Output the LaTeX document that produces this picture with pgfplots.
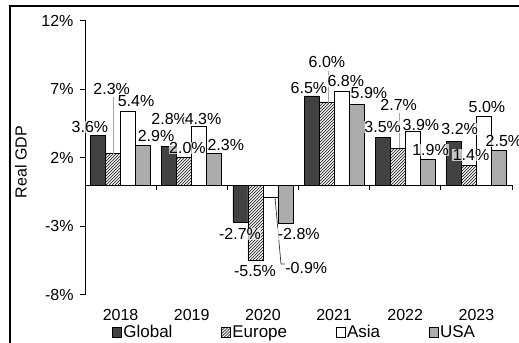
\documentclass[border=0pt]{standalone}
\usepackage{fontspec}
\setmainfont{Liberation Sans}
\usepackage{pgfplots}
\pgfplotsset{compat=1.18}

\definecolor{cGlobal}{RGB}{66,66,66}
\definecolor{cUSA}{RGB}{172,172,172}
\definecolor{leader}{RGB}{165,165,165}
\definecolor{hatchc}{RGB}{40,40,40}

\newcommand{\bigf}{\fontsize{16bp}{19bp}\selectfont}
\newcommand{\legf}{\fontsize{17bp}{20bp}\selectfont}
\tikzset{dl/.style={fill=white, fill opacity=0.7, text opacity=1, inner sep=0.5bp, font=\bigf},
  hatch/.style={path picture={%
    \pgftransformreset
    \pgfpointanchor{path picture bounding box}{south west}%
    \pgfgetlastxy{\hx}{\hy}%
    \pgfsetlinewidth{0.7bp}%
    \pgfsetstrokecolor{hatchc}%
    \foreach \k in {0,...,220}{%
      \pgfpathmoveto{\pgfpoint{\hx+\k*3bp-300bp}{\hy}}%
      \pgfpathlineto{\pgfpoint{\hx+\k*3bp}{\hy+300bp}}%
      \pgfusepath{stroke}%
    }}}}

\begin{document}
\begin{tikzpicture}[font=\bigf]
\draw[line width=2bp] (10bp,-20bp) -- (10bp,337bp) -- (560bp,337bp);
\begin{axis}[
  at={(85bp,48.2bp)}, anchor=south west, scale only axis,
  width=427bp, height=274.3bp,
  ymin=-8, ymax=12, ytick={-8,-3,2,7,12},
  /pgf/number format/assume math mode=true,
  yticklabel={\pgfmathprintnumber{\tick}\%},
  xmin=-0.5, xmax=5.5, xtick={0,...,5},
  xticklabels={2018,2019,2020,2021,2022,2023},
  tick label style={font=\bigf},
  axis lines=left, axis line style={-, line width=0.8bp},
  x axis line style={draw=none},
  major x tick style={draw=none},
  tick align=outside, major tick length=5bp,
  y tick style={line width=0.8bp, black},
  xticklabel style={yshift=-6bp},
  yticklabel style={xshift=-3bp},
  ybar=0pt, bar width=0.2108,
  clip=false,
  legend columns=4,
  legend style={at={(axis description cs:0.0627,-0.1367)}, anchor=west,
    draw=none, fill=none, inner sep=0pt, font=\legf,
    nodes={inner sep=1.2bp, anchor=west},
    /tikz/every even column/.append style={column sep=47.3bp}},
  legend image code/.code={\draw[#1,/tikz/.cd] (0bp,-4.7bp) rectangle (9.4bp,4.7bp);},
  ylabel={Real GDP},
  ylabel style={at={(axis description cs:-0.1365,0.484)}, anchor=base, font=\bigf},
]
\addplot[fill=cGlobal, draw=black, line width=0.8bp]
  coordinates {(0,3.6) (1,2.8) (2,-2.7) (3,6.5) (4,3.5) (5,3.2)};
\addplot[fill=white, hatch, draw=black, line width=0.8bp]
  coordinates {(0,2.3) (1,2.0) (2,-5.5) (3,6.0) (4,2.7) (5,1.4)};
\addplot[fill=white, draw=black, line width=0.8bp]
  coordinates {(0,5.4) (1,4.3) (2,-0.9) (3,6.8) (4,3.9) (5,5.0)};
\addplot[fill=cUSA, draw=black, line width=0.8bp]
  coordinates {(0,2.9) (1,2.3) (2,-2.8) (3,5.9) (4,1.9) (5,2.5)};
\legend{Global,Europe,Asia,USA}

% zero line and category boundary ticks
\draw[line width=0.8bp] (axis cs:-0.5,0) -- (axis cs:5.5,0);
\pgfplotsinvokeforeach{0.5,1.5,2.5,3.5,4.5,5.5}{
  \draw[line width=0.8bp] (axis cs:#1,0) -- ++(0bp,-5bp);
}

% leader lines
\draw[leader, line width=0.7bp] (axis cs:-0.102,6.39) -- (axis cs:-0.102,2.3);
\draw[leader, line width=0.7bp] (axis cs:2.919,8.33) -- (axis cs:2.919,6.0);
\draw[leader, line width=0.7bp] (axis cs:3.916,5.29) -- (axis cs:3.916,2.7);
\draw[black!80, line width=0.7bp] (axis cs:2.170,-0.9) -- (axis cs:2.254,-5.76) -- (axis cs:2.310,-5.76);

% data labels
\node[dl] at (axis cs:-0.430,4.25) {3.6\%};
\node[dl] at (axis cs:-0.125,7.02) {2.3\%};
\node[dl] at (axis cs:0.217,6.10) {5.4\%};
\node[dl] at (axis cs:0.498,3.59) {2.9\%};

\node[dl] at (axis cs:0.690,4.81) {2.8\%};
\node[dl] at (axis cs:1.158,4.81) {4.3\%};
\node[dl] at (axis cs:0.940,2.70) {2.0\%};
\node[dl] at (axis cs:1.478,2.94) {2.3\%};

\node[dl] at (axis cs:1.678,-3.57) {-2.7\%};
\node[dl] at (axis cs:2.504,-3.57) {-2.8\%};
\node[dl] at (axis cs:1.889,-6.25) {-5.5\%};
\node[dl] at (axis cs:2.609,-6.01) {-0.9\%};

\node[dl] at (axis cs:2.647,7.07) {6.5\%};
\node[dl] at (axis cs:2.900,8.94) {6.0\%};
\node[dl] at (axis cs:3.164,7.60) {6.8\%};
\node[dl] at (axis cs:3.490,6.75) {5.9\%};

\node[dl] at (axis cs:3.683,4.25) {3.5\%};
\node[dl] at (axis cs:3.908,5.85) {2.7\%};
\node[dl] at (axis cs:4.221,4.40) {3.9\%};
\node[dl] at (axis cs:4.355,2.57) {1.9\%};

\node[dl] at (axis cs:4.765,4.08) {3.2\%};
\node[dl] at (axis cs:4.924,2.21) {1.4\%};
\node[dl] at (axis cs:5.148,5.71) {5.0\%};
\node[dl] at (axis cs:5.387,3.23) {2.5\%};
\end{axis}
\pgfresetboundingbox
\useasboundingbox (0bp,0bp) rectangle (519bp,343bp);
\end{tikzpicture}
\end{document}
